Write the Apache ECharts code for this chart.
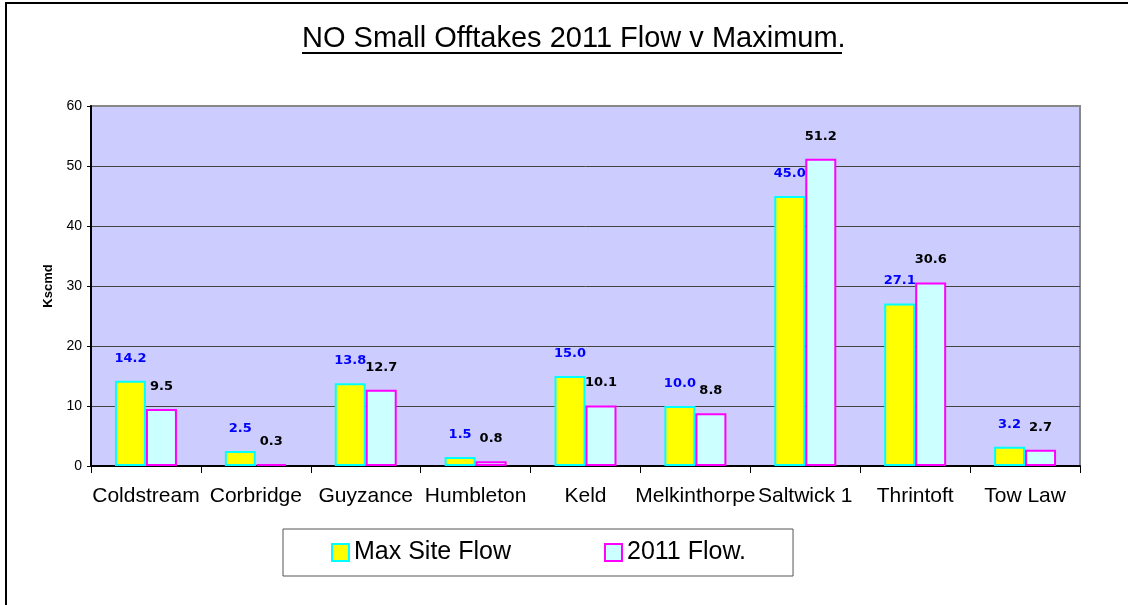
<!DOCTYPE html>
<html>
<head>
<meta charset="utf-8">
<script src="https://cdn.jsdelivr.net/npm/echarts@6/dist/echarts.min.js"></script>
<style>
html,body{margin:0;padding:0;background:#fff;}
#chart{width:1128px;height:605px;}
</style>
</head>
<body>
<div id="chart"></div>
<script>
const titleText = 'NO Small Offtakes 2011 Flow v Maximum.';
const categories = ['Coldstream','Corbridge','Guyzance','Humbleton','Keld','Melkinthorpe','Saltwick 1','Thrintoft','Tow Law'];
const maxSiteFlow = [14.2, 2.5, 13.8, 1.5, 15.0, 10.0, 45.0, 27.1, 3.2];
const flow2011 = [9.5, 0.3, 12.7, 0.8, 10.1, 8.8, 51.2, 30.6, 2.7];
const seriesNames = ['Max Site Flow', '2011 Flow.'];
const yAxisName = 'Kscmd';

const FONT = "'Liberation Sans', Arial, sans-serif";
const LABEL_FONT = "'DejaVu Sans', Verdana, sans-serif";

const chart = echarts.init(document.getElementById('chart'));
chart.setOption({
  animation: false,
  backgroundColor: '#ffffff',
  title: {
    text: titleText,
    left: 302,
    top: 24,
    padding: 0,
    textStyle: { fontFamily: FONT, fontSize: 29, fontWeight: 'normal', color: '#000' }
  },
  graphic: [
    { type: 'rect', shape: { x: 6, y: 3, width: 1200, height: 700 }, style: { fill: 'none', stroke: '#000', lineWidth: 2 }, silent: true },
    { type: 'line', shape: { x1: 302, y1: 53, x2: 842, y2: 53 }, style: { stroke: '#000', lineWidth: 2 }, silent: true }
  ],
  legend: {
    left: 283,
    top: 529,
    padding: [11, 47, 11, 48],
    itemWidth: 17,
    itemHeight: 17,
    itemGap: 93,
    icon: 'rect',
    borderColor: '#555',
    borderWidth: 1,
    backgroundColor: '#fff',
    textStyle: { fontFamily: FONT, fontSize: 25, color: '#000' },
    data: seriesNames
  },
  grid: {
    left: 91, top: 106, right: 48, bottom: 139,
    show: true,
    backgroundColor: '#CCCCFF',
    borderColor: '#888',
    borderWidth: 2
  },
  xAxis: {
    type: 'category',
    data: categories,
    axisLine: { lineStyle: { color: '#000', width: 2 } },
    axisTick: { show: true, length: 7, alignWithLabel: false, lineStyle: { color: '#000' } },
    axisLabel: { interval: 0, margin: 20, fontFamily: FONT, fontSize: 21, color: '#000' }
  },
  yAxis: {
    type: 'value',
    min: 0, max: 60, interval: 10,
    name: yAxisName,
    nameLocation: 'middle',
    nameGap: 36,
    nameTextStyle: { fontFamily: FONT, fontSize: 13, fontWeight: 'bold', color: '#000' },
    axisLine: { show: true, lineStyle: { color: '#000', width: 2 } },
    axisTick: { show: true, length: 4, lineStyle: { color: '#000' } },
    axisLabel: { margin: 9, fontFamily: FONT, fontSize: 14, color: '#000' },
    splitLine: { show: true, lineStyle: { color: ['#444','#444','#444','#444','#444','#444','#888'], width: 1 } }
  },
  series: [
    {
      name: seriesNames[0],
      type: 'bar',
      data: maxSiteFlow,
      barWidth: 31,
      barGap: '0%',
      itemStyle: { color: '#FFFF00', borderColor: '#00FFFF', borderWidth: 2 },
      label: {
        show: true, position: 'top', distance: 16,
        formatter: p => p.value.toFixed(1),
        fontFamily: LABEL_FONT, fontSize: 13, fontWeight: 'bold', color: '#0000FF'
      }
    },
    {
      name: seriesNames[1],
      type: 'bar',
      data: flow2011,
      barWidth: 31,
      itemStyle: { color: '#CCFFFF', borderColor: '#FF00FF', borderWidth: 2 },
      label: {
        show: true, position: 'top', distance: 16,
        formatter: p => p.value.toFixed(1),
        fontFamily: LABEL_FONT, fontSize: 13, fontWeight: 'bold', color: '#000'
      }
    }
  ]
});
</script>
</body>
</html>
